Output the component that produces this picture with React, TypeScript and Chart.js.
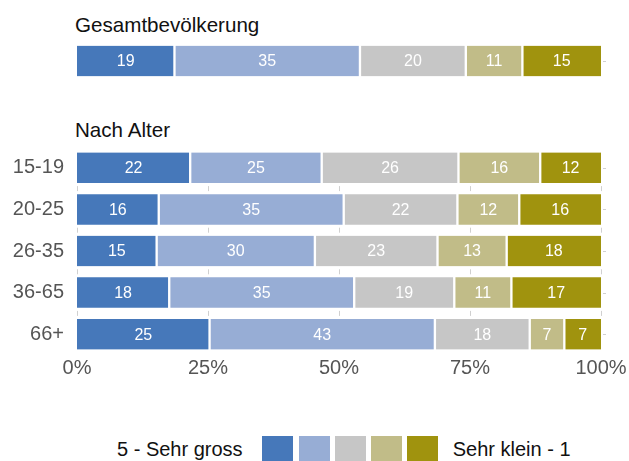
import React, { useEffect, useRef } from "react";
import { Chart, registerables } from "chart.js";

Chart.register(...registerables);

const SERIES = ["5 - Sehr gross", "4", "3", "2", "Sehr klein - 1"];
const COLORS = ["#4678BA", "#97ADD5", "#C6C6C6", "#C1BC88", "#A0930E"];

const TOTAL_LABEL = ["Gesamtbevölkerung"];
// values per series (percent) for the total population
const TOTAL_S5 = [18.6];
const TOTAL_S4 = [35.4];
const TOTAL_S3 = [20.2];
const TOTAL_S2 = [10.8];
const TOTAL_S1 = [15.0];

const AGE_GROUPS = ["15-19", "20-25", "26-35", "36-65", "66+"];
const AGE_S5 = [21.6, 15.6, 15.2, 17.6, 25.3];
const AGE_S4 = [25.1, 35.3, 30.2, 35.3, 43.0];
const AGE_S3 = [26.1, 21.7, 23.4, 19.1, 18.1];
const AGE_S2 = [15.6, 11.8, 13.2, 10.9, 6.6];
const AGE_S1 = [11.6, 15.6, 18.0, 17.1, 7.0];

const X_TICKS = [0, 25, 50, 75, 100];

const FONT = '"Liberation Sans", Arial, Helvetica, sans-serif';
const W = 629;

function makeDatasets(series: number[][]) {
  return series.map((data, i) => ({
    label: SERIES[i],
    data,
    backgroundColor: COLORS[i],
    borderColor: "#ffffff",
    borderWidth: {
      left: i === 0 ? 0 : 1.5,
      right: i === series.length - 1 ? 0 : 1.5,
      top: 0,
      bottom: 0,
    },
    borderSkipped: false,
    barThickness: 30.5,
  }));
}

const segLabels = {
  id: "segLabels",
  afterDatasetsDraw(chart: any) {
    const ctx = chart.ctx;
    ctx.save();
    ctx.font = `16px ${FONT}`;
    ctx.fillStyle = "#ffffff";
    ctx.textAlign = "center";
    ctx.textBaseline = "middle";
    chart.data.datasets.forEach((ds: any, i: number) => {
      const meta = chart.getDatasetMeta(i);
      meta.data.forEach((el: any, j: number) => {
        const p = el.getProps(["x", "base", "y"], true);
        ctx.fillText(String(Math.round(ds.data[j])), (p.x + p.base) / 2, p.y + 1);
      });
    });
    ctx.restore();
  },
};

const sideMarks = {
  id: "sideMarks",
  beforeDatasetsDraw(chart: any) {
    const ctx = chart.ctx;
    const ys = chart.scales.y;
    const xs = chart.scales.x;
    const area = chart.chartArea;
    const n = chart.data.labels.length;
    ctx.save();
    ctx.strokeStyle = "#d0d0d0";
    ctx.lineWidth = 1;
    for (let k = 0; k < n; k++) {
      const y = Math.round(ys.getPixelForValue(k)) + 0.5;
      ctx.beginPath();
      ctx.moveTo(area.right + 2, y);
      ctx.lineTo(area.right + 5, y);
      ctx.stroke();
    }
    if (chart.options.plugins.sideMarks && chart.options.plugins.sideMarks.grid) {
      X_TICKS.forEach((v) => {
        const x = Math.round(xs.getPixelForValue(v)) + 0.5;
        for (let k = 0; k < n - 1; k++) {
          const ym = (ys.getPixelForValue(k) + ys.getPixelForValue(k + 1)) / 2;
          ctx.beginPath();
          ctx.moveTo(x, ym - 2.5);
          ctx.lineTo(x, ym + 2.5);
          ctx.stroke();
        }
      });
    }
    ctx.restore();
  },
};

function TotalChart() {
  const ref = useRef<HTMLCanvasElement | null>(null);
  useEffect(() => {
    if (!ref.current) return;
    const chart = new Chart(ref.current, {
      type: "bar",
      data: {
        labels: TOTAL_LABEL,
        datasets: makeDatasets([TOTAL_S5, TOTAL_S4, TOTAL_S3, TOTAL_S2, TOTAL_S1]) as any,
      },
      options: {
        indexAxis: "y",
        animation: false,
        responsive: false,
        devicePixelRatio: 1,
        layout: { padding: { left: 77, right: 28, top: 0, bottom: 0 } },
        scales: {
          x: { stacked: true, min: 0, max: 100, display: false },
          y: { stacked: true, display: false },
        },
        plugins: {
          legend: { display: false },
          tooltip: { enabled: false },
          sideMarks: { grid: false },
        } as any,
      },
      plugins: [segLabels, sideMarks],
    });
    return () => chart.destroy();
  }, []);
  return (
    <canvas
      ref={ref}
      width={W}
      height={42}
      style={{ position: "absolute", left: 0, top: 40, width: W, height: 42 }}
    />
  );
}

const AGE_TOP = 122.2;
const AGE_H = 279;

function AgeChart() {
  const ref = useRef<HTMLCanvasElement | null>(null);
  useEffect(() => {
    if (!ref.current) return;
    const chart = new Chart(ref.current, {
      type: "bar",
      data: {
        labels: AGE_GROUPS,
        datasets: makeDatasets([AGE_S5, AGE_S4, AGE_S3, AGE_S2, AGE_S1]) as any,
      },
      options: {
        indexAxis: "y",
        animation: false,
        responsive: false,
        devicePixelRatio: 1,
        layout: { padding: { left: 0, right: 28, top: 0, bottom: 10 } },
        scales: {
          x: {
            stacked: true,
            min: 0,
            max: 100,
            afterFit: (s: any) => {
              s.height = 36;
            },
            afterBuildTicks: (s: any) => {
              s.ticks = X_TICKS.map((v) => ({ value: v }));
            },
            grid: { display: false, drawTicks: false },
            border: { display: false },
            ticks: {
              padding: 1.5,
              color: "#555555",
              font: { family: FONT, size: 20 },
              maxRotation: 0,
              callback: (v: any) => `${v}%`,
            },
          },
          y: {
            stacked: true,
            afterFit: (s: any) => {
              s.width = 77;
            },
            grid: { display: false, drawTicks: false },
            border: { display: false },
            ticks: {
              padding: 13,
              color: "#555555",
              font: { family: FONT, size: 20 },
            },
          },
        },
        plugins: {
          legend: { display: false },
          tooltip: { enabled: false },
          sideMarks: { grid: true },
        } as any,
      },
      plugins: [segLabels, sideMarks],
    });
    return () => chart.destroy();
  }, []);
  return (
    <canvas
      ref={ref}
      width={W}
      height={AGE_H}
      style={{ position: "absolute", left: 0, top: AGE_TOP, width: W, height: AGE_H }}
    />
  );
}

export default function App() {
  const textStyle: React.CSSProperties = {
    position: "absolute",
    fontFamily: FONT,
    fontSize: 20,
    lineHeight: "20px",
    color: "#111111",
    whiteSpace: "nowrap",
  };
  return (
    <div
      style={{
        position: "fixed",
        left: 0,
        top: 0,
        width: W,
        height: 461,
        overflow: "hidden",
        background: "#ffffff",
      }}
    >
      <div style={{ ...textStyle, left: 75, top: 14.8, fontSize: 20.6 }}>Gesamtbevölkerung</div>
      <TotalChart />
      <div style={{ ...textStyle, left: 75, top: 119.8, fontSize: 20.6 }}>Nach Alter</div>
      <AgeChart />
      <div style={{ ...textStyle, left: 117, top: 438.5 }}>{SERIES[0]}</div>
      {COLORS.map((c, i) => (
        <div
          key={i}
          style={{
            position: "absolute",
            left: 262.3 + i * 36.25,
            top: 435.7,
            width: 31,
            height: 31,
            background: c,
          }}
        />
      ))}
      <div style={{ ...textStyle, left: 452.7, top: 438.5 }}>{SERIES[4]}</div>
    </div>
  );
}
